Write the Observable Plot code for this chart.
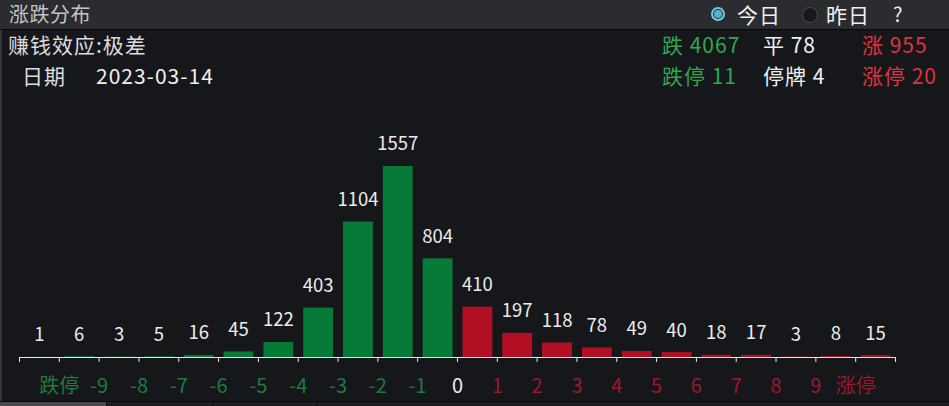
<!DOCTYPE html>
<html><head><meta charset="utf-8">
<script src="https://cdn.jsdelivr.net/npm/d3@7"></script>
<script src="https://cdn.jsdelivr.net/npm/@observablehq/plot@0.6"></script>
<style>
html,body{margin:0;padding:0;background:#16171b;}
#wrap{position:relative;width:949px;height:406px;overflow:hidden;background:#16171b;font-family:"Microsoft YaHei","Noto Sans CJK SC","Noto Sans",sans-serif;}
.t{position:absolute;white-space:nowrap;line-height:1;font-size:21px;letter-spacing:1px;}
#hdr{position:absolute;left:0;top:0;width:949px;height:29px;background:#2b2c30;border-bottom:1px solid #08090b;}
#lb{position:absolute;left:0;top:30px;width:2px;height:372px;background:#35363b;}
#bot{position:absolute;left:0;top:401px;width:949px;height:5px;background:#1d1e22;border-top:1px solid #08090b;}
.tab{position:absolute;top:402px;height:4px;}
svg{position:absolute;left:0;top:0;}
</style></head>
<body><div id="wrap">
<div id="hdr"></div>
<div id="lb"></div>
<div id="bot"></div>
<div class="tab" style="left:0;width:106px;background:#47484d"></div>
<div class="tab" style="left:106px;width:1px;background:#08090b"></div>
<div class="tab" style="left:212px;width:1px;background:#08090b"></div>
<div class="tab" style="left:316px;width:1px;background:#08090b"></div>
<div class="t" style="left:9px;top:4px;font-size:20px;letter-spacing:0.5px;color:#c4c4c4">涨跌分布</div>
<div class="t" style="left:711px;top:7px;width:14px;height:14px;border-radius:50%;border:2px solid #7cc4e0;background:#2c2d31;box-sizing:border-box"></div>
<div class="t" style="left:714px;top:10px;width:8px;height:8px;border-radius:50%;background:#4fb0d8"></div>
<div class="t" style="left:737px;top:4px;color:#f0f0f0">今日</div>
<div class="t" style="left:802px;top:7px;width:16px;height:16px;border-radius:50%;border:1px solid #4a4b50;background:#18191c;box-sizing:border-box"></div>
<div class="t" style="left:826px;top:4px;color:#f0f0f0">昨日</div>
<div class="t" style="left:893px;top:4px;font-size:20px;color:#f0f0f0">?</div>
<div class="t" style="left:8px;top:34px;color:#dcdcdc">赚钱效应:极差</div>
<div class="t" style="left:22px;top:65px;color:#dcdcdc">日期</div>
<div class="t" style="left:96px;top:65px;color:#f0f0f0">2023-03-14</div>
<div class="t" style="left:662px;top:34px;color:#2ea84c">跌 4067</div>
<div class="t" style="left:763px;top:34px;color:#f0f0f0">平 78</div>
<div class="t" style="left:862px;top:34px;color:#e0323f">涨 955</div>
<div class="t" style="left:662px;top:65px;color:#2ea84c">跌停 11</div>
<div class="t" style="left:763px;top:65px;color:#f0f0f0">停牌 4</div>
<div class="t" style="left:862px;top:65px;color:#e0323f">涨停 20</div>
</div>
<script>
const counts = [1,6,3,5,16,45,122,403,1104,1557,804,410,197,118,78,49,40,18,17,3,8,15];
const tickLabels = ["跌停","-9","-8","-7","-6","-5","-4","-3","-2","-1","0","1","2","3","4","5","6","7","8","9","涨停"];
const downBins = 11; // first 11 bins are declines

const bins = counts.map((v,i)=>({i, v, up: i >= downBins}));
const labels = tickLabels.map((s,i)=>({pos: i+1, s, kind: s==="0" ? "flat" : (i < 10 ? "down" : "up")}));
const labelColor = {down:"#1f7a3c", flat:"#eeeeee", up:"#98192a"};

const chart = Plot.plot({
  width: 949,
  height: 406,
  marginLeft: 19,
  marginRight: 54,
  marginTop: 166,
  marginBottom: 49,
  style: {background: "transparent", fontFamily: "'Microsoft YaHei','Noto Sans CJK SC',sans-serif"},
  x: {domain: [0, counts.length], axis: null},
  y: {domain: [0, d3.max(counts)], axis: null},
  marks: [
    Plot.rectY(bins, {x1: "i", x2: d=>d.i+1, y: "v", insetLeft: 5.5, insetRight: 4.5,
      fill: d => d.up ? "#b30f24" : "#087a37"}),
    Plot.ruleY([0], {stroke: "#e6e6e6", strokeWidth: 1}),
    Plot.axisX({ticks: d3.range(counts.length+1), tickFormat: () => "", tickSize: 5, stroke: "#e6e6e6", strokeOpacity: 1, anchor: "bottom"}),
    Plot.text(bins, {x: d=>d.i+0.5, y: "v", text: d=>String(d.v), dy: -22, lineAnchor: "middle",
      fill: "#ececec", fontSize: 18.5}),
    Plot.text(labels, {x: "pos", y: 0, text: "s", dy: 29, lineAnchor: "middle", fontSize: 20,
      fill: d => labelColor[d.kind]})
  ]
});
document.getElementById("wrap").appendChild(chart);
</script>
</body></html>
